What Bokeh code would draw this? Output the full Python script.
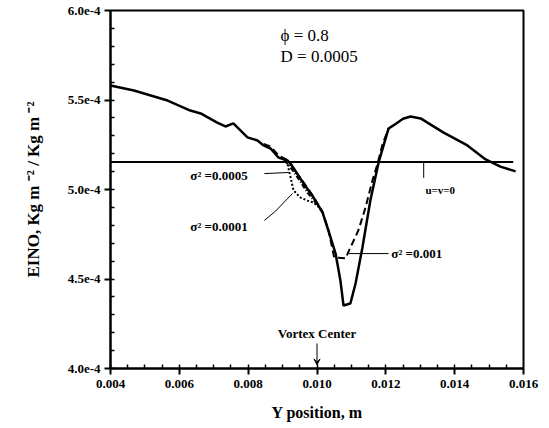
from bokeh.plotting import figure
from bokeh.models import FixedTicker, Label, Arrow, VeeHead
from bokeh.embed import file_html
from bokeh.resources import INLINE
import numpy as np

# ---- data ----
solid_x = [0.0040, 0.00468, 0.00566, 0.00632, 0.00662, 0.00710, 0.00734, 0.00757, 0.00798,
           0.00827, 0.00845, 0.00865, 0.00888, 0.00914, 0.00923, 0.00961, 0.00990, 0.01016,
           0.01033, 0.01054, 0.01068, 0.01077, 0.01097, 0.01112, 0.01132, 0.01155, 0.01179,
           0.01208, 0.01222, 0.01250, 0.01272, 0.01301, 0.01368, 0.01437, 0.01490, 0.01533, 0.01577]
solid_y = [5.581, 5.553, 5.497, 5.441, 5.425, 5.374, 5.352, 5.369, 5.291,
           5.274, 5.246, 5.229, 5.179, 5.162, 5.145, 5.034, 4.955, 4.872,
           4.771, 4.642, 4.492, 4.352, 4.363, 4.475, 4.676, 4.939, 5.151,
           5.341, 5.358, 5.395, 5.408, 5.397, 5.318, 5.246, 5.168, 5.128, 5.101]

dash_x = [0.00845, 0.00865, 0.00888, 0.00914, 0.00961, 0.00990, 0.01016, 0.01033, 0.01050,
          0.01083, 0.01089, 0.01120, 0.01141, 0.01161, 0.01176, 0.01190, 0.01208]
dash_y = [5.255, 5.240, 5.190, 5.165, 5.040, 4.960, 4.875, 4.775, 4.620,
          4.615, 4.642, 4.771, 4.899, 5.050, 5.145, 5.250, 5.341]

s0005_x = [0.00905, 0.00923, 0.00946, 0.00972, 0.00996, 0.01016]
s0005_y = [5.165, 5.123, 5.061, 4.983, 4.927, 4.872]

s0001_x = [0.00900, 0.00914, 0.00932, 0.00952, 0.00972, 0.00990, 0.01010]
s0001_y = [5.175, 5.145, 4.994, 4.955, 4.938, 4.927, 4.894]

uv0_x = [0.0040, 0.0157]
uv0_y = [5.153, 5.153]

x_ticks = [0.004, 0.006, 0.008, 0.010, 0.012, 0.014, 0.016]
x_labels = ["0.004", "0.006", "0.008", "0.010", "0.012", "0.014", "0.016"]
y_ticks = [4.0e-4, 4.5e-4, 5.0e-4, 5.5e-4, 6.0e-4]
y_labels = ["4.0e-4", "4.5e-4", "5.0e-4", "5.5e-4", "6.0e-4"]

sc = 1e-4
FONT = "Liberation Serif"

p = figure(width=549, height=428, output_backend="svg", toolbar_location=None,
           x_range=(0.004, 0.016), y_range=(4.0e-4, 6.0e-4),
           min_border_left=110, min_border_right=26, min_border_top=10, min_border_bottom=60)
p.grid.visible = False
p.outline_line_color = "black"
p.outline_line_width = 2
p.background_fill_color = "white"
p.border_fill_color = "white"

p.xaxis.ticker = FixedTicker(ticks=x_ticks, minor_ticks=list(np.arange(0.004, 0.01601, 0.0005)))
p.xaxis.major_label_overrides = dict(zip(x_ticks, x_labels))
p.yaxis.ticker = FixedTicker(ticks=y_ticks, minor_ticks=list(np.arange(4.0e-4, 6.001e-4, 0.1e-4)))
p.yaxis.major_label_overrides = dict(zip(y_ticks, y_labels))

for ax in (p.xaxis[0], p.yaxis[0]):
    ax.axis_line_width = 2
    ax.major_tick_line_width = 2
    ax.minor_tick_line_width = 1.5
    ax.major_tick_out = 6
    ax.major_tick_in = 0
    ax.minor_tick_out = 0
    ax.minor_tick_in = 4
    ax.major_label_text_font = FONT
    ax.major_label_text_font_style = "bold"
    ax.major_label_text_font_size = "13px"
    ax.major_label_text_color = "black"
    ax.axis_label_text_font = FONT
    ax.axis_label_text_font_style = "bold"
    ax.axis_label_text_font_size = "16px"
    ax.axis_label_text_color = "black"

p.xaxis.axis_label = "Y position, m"
p.xaxis.axis_label_standoff = 13
p.xaxis.major_label_standoff = 5
p.yaxis.axis_label = "EINO, Kg m ⁻² / Kg m ⁻²"
p.yaxis.axis_label_text_font_size = "17px"
p.yaxis.axis_label_standoff = 22
p.yaxis.major_label_standoff = 4

p.line(uv0_x, [v * sc for v in uv0_y], line_color="black", line_width=2)
p.line(solid_x, [v * sc for v in solid_y], line_color="black", line_width=2.5)
p.line(dash_x, [v * sc for v in dash_y], line_color="black", line_width=2, line_dash="7 4")
p.line(s0005_x, [v * sc for v in s0005_y], line_color="black", line_width=2, line_dash="5 2 1 2")
p.line(s0001_x, [v * sc for v in s0001_y], line_color="black", line_width=2, line_dash="2 2")

def lab(x, y, t, size="13px", style="bold", align="left", base="middle"):
    p.add_layout(Label(x=x, y=y, text=t, text_font=FONT, text_font_size=size,
                       text_font_style=style, text_align=align, text_baseline=base,
                       text_color="black"))

lab(0.00894, 5.86e-4, "ϕ = 0.8", size="17px", style="normal")
lab(0.00894, 5.745e-4, "D = 0.0005", size="17px", style="normal")
lab(0.00632, 5.078e-4, "σ² =0.0005")
lab(0.00632, 4.793e-4, "σ² =0.0001")
lab(0.01216, 4.642e-4, "σ² =0.001")
lab(0.01315, 4.995e-4, "u=v=0", size="11px")
lab(0.0100, 4.196e-4, "Vortex Center", size="13px", align="center")

# leaders
p.line([0.00847, 0.00918], [5.089e-4, 5.095e-4], line_color="black", line_width=1)
p.line([0.00847, 0.00880, 0.00929], [4.827e-4, 4.88e-4, 4.978e-4], line_color="black", line_width=1)
p.line([0.01092, 0.01208], [4.642e-4, 4.642e-4], line_color="black", line_width=1)
p.line([0.0131, 0.0131], [5.153e-4, 5.065e-4], line_color="black", line_width=1)
p.add_layout(Arrow(x_start=0.0100, y_start=4.14e-4, x_end=0.0100, y_end=4.02e-4,
                   line_color="black", line_width=1,
                   end=VeeHead(size=6, fill_color="black", line_color="black")))

open("out.html", "w").write(file_html(p, INLINE))
